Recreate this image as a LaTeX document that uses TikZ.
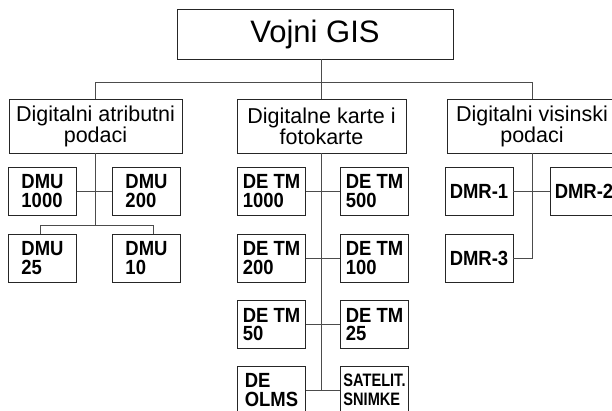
\documentclass[tikz,border=0pt]{standalone}
\usepackage{fontspec}
\setmainfont{Liberation Sans}
\newfontfamily\leaffont[FakeStretch=0.9]{Liberation Sans}
\newfontfamily\narrowfont[FakeStretch=0.81]{Liberation Sans}
\usetikzlibrary{positioning}

\begin{document}
\begin{tikzpicture}[x=1pt, y=-1pt,
  box/.style={draw=black!85, line width=0.8pt, inner sep=0pt, align=center},
  head/.style={box, minimum height=54pt, font=\fontsize{21.5}{20}\selectfont},
  leaf/.style={box, minimum width=68pt, minimum height=48pt, align=left,
               font=\leaffont\bfseries\fontsize{20.5}{18.5}\selectfont},
  link/.style={draw=black!70, line width=0.7pt}]
  \useasboundingbox (0,0) rectangle (612,411);
  \clip (0,0) rectangle (612,411);

  % top and the three groups
  \node[box, minimum width=276pt, minimum height=50pt, font=\fontsize{31}{36}\selectfont]
       (gis) at (315,34) {Vojni GIS};
  \node[head, minimum width=173pt] (atr)   at (95.5,126)  {Digitalni atributni\\podaci};
  \node[head, minimum width=169pt] (karte) at (321.5,126) {Digitalne karte i\\fotokarte};
  \node[head, minimum width=170pt] (vis)   at (532,126)   {Digitalni visinski\\podaci};

  % attribute data
  \node[leaf] (dmu1000) at (42.5,191)  {DMU\\1000};
  \node[leaf] (dmu200)  at (146.5,191) {DMU\\200};
  \node[leaf] (dmu25)   at (42.5,258)  {DMU\\25};
  \node[leaf] (dmu10)   at (146.5,258) {DMU\\10};

  % maps
  \node[leaf] (tm1000) at (271.5,191)   {DE TM\\1000};
  \node[leaf] (tm500)  at (374.5,191)   {DE TM\\500};
  \node[leaf] (tm200)  at (271.5,258)   {DE TM\\200};
  \node[leaf] (tm100)  at (374.5,258)   {DE TM\\100};
  \node[leaf] (tm50)   at (271.5,324.5) {DE TM\\50};
  \node[leaf] (tm25)   at (374.5,324.5) {DE TM\\25};
  \node[leaf] (olms)   at (271.5,390)   {DE\\OLMS};
  \node[leaf, font=\narrowfont\bfseries\fontsize{18}{18.5}\selectfont]
       (sat) at (374.5,390) {SATELIT.\\SNIMKE};

  % elevation data
  \node[leaf] (dmr1) at (479,191) {DMR-1};
  \node[leaf] (dmr2) at (584,191) {DMR-2};
  \node[leaf] (dmr3) at (479,258) {DMR-3};

  \coordinate (bus) at (0,82);
  \coordinate (j1)  at (0,225);
  \draw[link] (karte.north |- gis.south) -- (karte.north);
  \draw[link] (atr.north) -- (atr.north |- bus) -- (vis.north |- bus) -- (vis.north);

  \draw[link] (atr.south) -- (atr.south |- j1);
  \draw[link] (dmu1000.east) -- (dmu200.west);
  \draw[link] ([xshift=-2pt]dmu25.north) |- ([xshift=7pt]dmu10.north |- j1) -- ([xshift=7pt]dmu10.north);

  \draw[link] (karte.south) -- (karte.south |- olms.east);
  \draw[link] (tm1000.east) -- (tm500.west);
  \draw[link] (tm200.east) -- (tm100.west);
  \draw[link] (tm50.east) -- (tm25.west);
  \draw[link] (olms.east) -- (sat.west);

  \draw[link] (vis.south) |- (dmr3.east);
  \draw[link] (dmr1.east) -- (dmr2.west);
\end{tikzpicture}
\end{document}
